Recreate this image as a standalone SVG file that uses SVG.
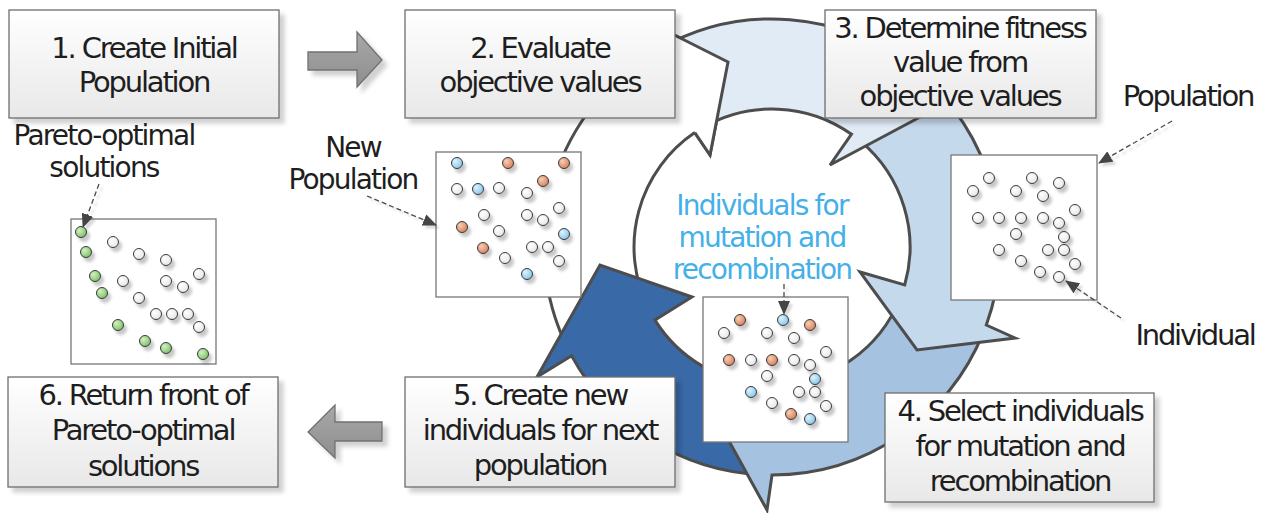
<svg xmlns="http://www.w3.org/2000/svg" width="1263" height="513" viewBox="0 0 1263 513">
<defs>
<linearGradient id="boxg" x1="0" y1="0" x2="0" y2="1"><stop offset="0" stop-color="#ffffff"/><stop offset="1" stop-color="#e8e8e8"/></linearGradient>
<linearGradient id="grayg" x1="0" y1="0" x2="0" y2="1"><stop offset="0" stop-color="#a8a8a8"/><stop offset="1" stop-color="#8e8e8e"/></linearGradient>
<radialGradient id="gw" cx="0.35" cy="0.35" r="0.7"><stop offset="0" stop-color="#ffffff"/><stop offset="1" stop-color="#e6e6e6"/></radialGradient>
<radialGradient id="gg" cx="0.35" cy="0.35" r="0.7"><stop offset="0" stop-color="#d2f0c4"/><stop offset="1" stop-color="#7cc265"/></radialGradient>
<radialGradient id="go" cx="0.35" cy="0.35" r="0.7"><stop offset="0" stop-color="#f6cdb6"/><stop offset="1" stop-color="#d8805a"/></radialGradient>
<radialGradient id="gb" cx="0.35" cy="0.35" r="0.7"><stop offset="0" stop-color="#dff2fc"/><stop offset="1" stop-color="#84c6ec"/></radialGradient>
<filter id="sh" x="-20%" y="-20%" width="150%" height="150%"><feDropShadow dx="5" dy="5" stdDeviation="2" flood-color="#000" flood-opacity="0.18"/></filter>
<filter id="dsh" x="-20%" y="-20%" width="150%" height="150%"><feDropShadow dx="3" dy="4" stdDeviation="1.6" flood-color="#000" flood-opacity="0.22"/></filter>
<filter id="lsh" x="-20%" y="-20%" width="150%" height="150%"><feDropShadow dx="3" dy="3" stdDeviation="1" flood-color="#000" flood-opacity="0.15"/></filter>
<marker id="ah" viewBox="0 0 14 12" refX="13" refY="6" markerWidth="14" markerHeight="12" markerUnits="userSpaceOnUse" orient="auto"><path d="M0,0 L14,6 L0,12 Z" fill="#444"/></marker>
<style>
.arr{stroke:#4d4d4d;stroke-width:3;stroke-linejoin:miter}
.box{fill:url(#boxg);stroke:#6e6e6e;stroke-width:1.3;filter:url(#sh)}
.plot{fill:#fff;stroke:#777;stroke-width:1.3}
.t{font-family:'DejaVu Sans',sans-serif;font-size:29px;letter-spacing:-2.2px;fill:#1e1e1e;text-anchor:middle}
.s{font-size:28px;letter-spacing:-1.8px}
.tb{fill:#45b0e8}
.d circle{stroke:#3a3a3a;stroke-width:1}
.w{fill:url(#gw)}.g{fill:url(#gg)}.o{fill:url(#go)}.b{fill:url(#gb)}
.blk{fill:url(#grayg);stroke:#707070;stroke-width:1.3;filter:url(#sh)}
.ld{fill:none;stroke:#4a4a4a;stroke-width:1.3;stroke-dasharray:5 3;marker-end:url(#ah)}
</style>
</defs>
<rect width="1263" height="513" fill="#fff"/>

<g id="connectors">
  <g id="cycle">
    <path class="arr" fill="#ffffff" d="M567.1,347 A228,228 0 0 1 658,49.5 L639.5,17.5 L728,62 L710,155 L694.8,132.6 A138,138 0 0 0 648,307.5 Z"/>
    <path class="arr" fill="#3a69a7" d="M760.1,474.7 A228,228 0 0 1 571.6,355.8 L537,377 L600,265 L692,297 L655,320.1 A138,138 0 0 0 764.8,384.8 Z"/>
    <path class="arr" fill="#a5c2e1" d="M983.4,332.4 A228,228 0 0 1 772,475 L767,510 L718.5,422 L776.9,339.9 L776.8,384.9 A138,138 0 0 0 899.9,298.7 Z"/>
    <path class="arr" fill="#c5d9ec" d="M918.6,72.3 A228,228 0 0 1 986.3,325 L1015,338 L917,350 L860,272 L904.7,285 A138,138 0 0 0 860.7,141.3 Z"/>
    <path class="arr" fill="#e0ebf5" d="M658,49.5 A228,228 0 0 1 915.5,69.8 L940.7,38.7 L952,100 L830,165 L851.5,134.2 A138,138 0 0 0 703,127.5 Z"/>
    <path class="arr" fill="#ffffff" d="M658,49.5 L639.5,17.5 L728,62 L710,155 L694.8,132.6"/>
  </g>
  <polygon id="arrow-1-2" class="blk" points="308,52 357,52 357,32 382,60 357,87 357,70 308,70"/>
  <polygon id="arrow-5-6" class="blk" points="382,422 335,422 335,405 308,432 335,458 335,441 382,441"/>
</g>

<g id="box1"><rect class="box" x="9" y="10" width="270" height="108"/>
<text class="t" x="144" y="58">1. Create Initial</text><text class="t" x="144" y="92">Population</text></g>
<g id="box2"><rect class="box" x="405" y="10" width="270" height="108"/>
<text class="t" x="540" y="58">2. Evaluate</text><text class="t" x="540" y="92">objective values</text></g>
<g id="box3"><rect class="box" x="825" y="10" width="271" height="108"/>
<text class="t" x="960" y="38">3. Determine fitness</text><text class="t" x="960" y="72">value from</text><text class="t" x="960" y="106">objective values</text></g>
<g id="box4"><rect class="box" x="885" y="393" width="269" height="109"/>
<text class="t" x="1020" y="421">4. Select individuals</text><text class="t" x="1020" y="456">for mutation and</text><text class="t" x="1020" y="491">recombination</text></g>
<g id="box5"><rect class="box" x="405" y="377" width="270" height="110"/>
<text class="t" x="540" y="405">5. Create new</text><text class="t" x="540" y="440">individuals for next</text><text class="t" x="540" y="475">population</text></g>
<g id="box6"><rect class="box" x="8" y="377" width="270" height="110"/>
<text class="t" x="143" y="405">6. Return front of</text><text class="t" x="143" y="440">Pareto-optimal</text><text class="t" x="143" y="476">solutions</text></g>

<g id="plot-pareto">
<rect class="plot" x="71" y="219" width="145" height="145"/>
<g class="d" filter="url(#dsh)">
<circle class="g" cx="81" cy="232" r="5.5"/><circle class="g" cx="86" cy="252" r="5.5"/><circle class="g" cx="95" cy="276" r="5.5"/><circle class="g" cx="102" cy="293" r="5.5"/><circle class="g" cx="118" cy="325" r="5.5"/><circle class="g" cx="145" cy="341" r="5.5"/><circle class="g" cx="166" cy="348" r="5.5"/><circle class="g" cx="203" cy="354" r="5.5"/>
<circle class="w" cx="113" cy="242" r="5.5"/><circle class="w" cx="139" cy="254" r="5.5"/><circle class="w" cx="166" cy="260" r="5.5"/><circle class="w" cx="199" cy="274" r="5.5"/><circle class="w" cx="123" cy="281" r="5.5"/><circle class="w" cx="166" cy="281" r="5.5"/><circle class="w" cx="183" cy="287" r="5.5"/><circle class="w" cx="139" cy="298" r="5.5"/><circle class="w" cx="156" cy="314" r="5.5"/><circle class="w" cx="172" cy="314" r="5.5"/><circle class="w" cx="188" cy="314" r="5.5"/><circle class="w" cx="199" cy="327" r="5.5"/>
</g></g>

<g id="plot-new-population">
<rect class="plot" x="436" y="152" width="145" height="145"/>
<g class="d" filter="url(#dsh)">
<circle class="b" cx="457" cy="163" r="5.5"/><circle class="b" cx="478" cy="189" r="5.5"/><circle class="b" cx="564" cy="234" r="5.5"/><circle class="b" cx="527" cy="274" r="5.5"/>
<circle class="o" cx="508" cy="163" r="5.5"/><circle class="o" cx="564" cy="163" r="5.5"/><circle class="o" cx="543" cy="181" r="5.5"/><circle class="o" cx="462" cy="227" r="5.5"/><circle class="o" cx="483" cy="248" r="5.5"/>
<circle class="w" cx="457" cy="189" r="5.5"/><circle class="w" cx="499" cy="188" r="5.5"/><circle class="w" cx="527" cy="193" r="5.5"/><circle class="w" cx="559" cy="208" r="5.5"/><circle class="w" cx="484" cy="215" r="5.5"/><circle class="w" cx="527" cy="215" r="5.5"/><circle class="w" cx="543" cy="220" r="5.5"/><circle class="w" cx="499" cy="231" r="5.5"/><circle class="w" cx="532" cy="247" r="5.5"/><circle class="w" cx="548" cy="247" r="5.5"/><circle class="w" cx="559" cy="261" r="5.5"/><circle class="w" cx="505" cy="258" r="5.5"/>
</g></g>

<g id="plot-population">
<rect class="plot" x="951" y="155" width="146" height="145"/>
<g class="d" filter="url(#dsh)">
<circle class="w" cx="989" cy="178" r="5.5"/><circle class="w" cx="1032" cy="178" r="5.5"/><circle class="w" cx="1059" cy="183" r="5.5"/><circle class="w" cx="973" cy="191" r="5.5"/><circle class="w" cx="1016" cy="191" r="5.5"/><circle class="w" cx="1043" cy="196" r="5.5"/><circle class="w" cx="1075" cy="210" r="5.5"/><circle class="w" cx="978" cy="218" r="5.5"/><circle class="w" cx="999" cy="218" r="5.5"/><circle class="w" cx="1021" cy="218" r="5.5"/><circle class="w" cx="1043" cy="218" r="5.5"/><circle class="w" cx="1059" cy="223" r="5.5"/><circle class="w" cx="1016" cy="234" r="5.5"/><circle class="w" cx="1064" cy="237" r="5.5"/><circle class="w" cx="999" cy="250" r="5.5"/><circle class="w" cx="1048" cy="250" r="5.5"/><circle class="w" cx="1064" cy="250" r="5.5"/><circle class="w" cx="1021" cy="261" r="5.5"/><circle class="w" cx="1075" cy="264" r="5.5"/><circle class="w" cx="1040" cy="272" r="5.5"/><circle class="w" cx="1059" cy="277" r="5.5"/>
</g></g>

<g id="plot-selected">
<rect class="plot" x="703" y="297" width="145" height="145"/>
<g class="d" filter="url(#dsh)">
<circle class="o" cx="740" cy="320" r="5.5"/><circle class="o" cx="810" cy="325" r="5.5"/><circle class="o" cx="729" cy="360" r="5.5"/><circle class="o" cx="772" cy="360" r="5.5"/><circle class="o" cx="791" cy="414" r="5.5"/>
<circle class="b" cx="783" cy="320" r="5.5"/><circle class="b" cx="815" cy="379" r="5.5"/><circle class="b" cx="751" cy="392" r="5.5"/><circle class="b" cx="810" cy="419" r="5.5"/>
<circle class="w" cx="724" cy="333" r="5.5"/><circle class="w" cx="767" cy="333" r="5.5"/><circle class="w" cx="794" cy="338" r="5.5"/><circle class="w" cx="826" cy="352" r="5.5"/><circle class="w" cx="751" cy="360" r="5.5"/><circle class="w" cx="794" cy="360" r="5.5"/><circle class="w" cx="810" cy="365" r="5.5"/><circle class="w" cx="767" cy="376" r="5.5"/><circle class="w" cx="799" cy="392" r="5.5"/><circle class="w" cx="815" cy="392" r="5.5"/><circle class="w" cx="772" cy="403" r="5.5"/><circle class="w" cx="826" cy="406" r="5.5"/>
</g></g>

<g id="labels">
<text class="t s" x="104" y="145">Pareto-optimal</text><text class="t s" x="104" y="177">solutions</text>
<text class="t s" x="353" y="157">New</text><text class="t s" x="353" y="189">Population</text>
<text class="t" x="1188" y="106">Population</text>
<text class="t" x="1195" y="345">Individual</text>
<text class="t s tb" x="762" y="215">Individuals for</text><text class="t s tb" x="762" y="247">mutation and</text><text class="t s tb" x="762" y="279">recombination</text>
</g>

<g id="leaders" filter="url(#lsh)">
<path class="ld" d="M99,184 L83,227"/>
<path class="ld" d="M367,196 L436,225"/>
<path class="ld" d="M1172,121 L1099,163"/>
<path class="ld" d="M1121,318 L1066,281"/>
<path class="ld" d="M784,284 L784,314"/>
</g>
</svg>
